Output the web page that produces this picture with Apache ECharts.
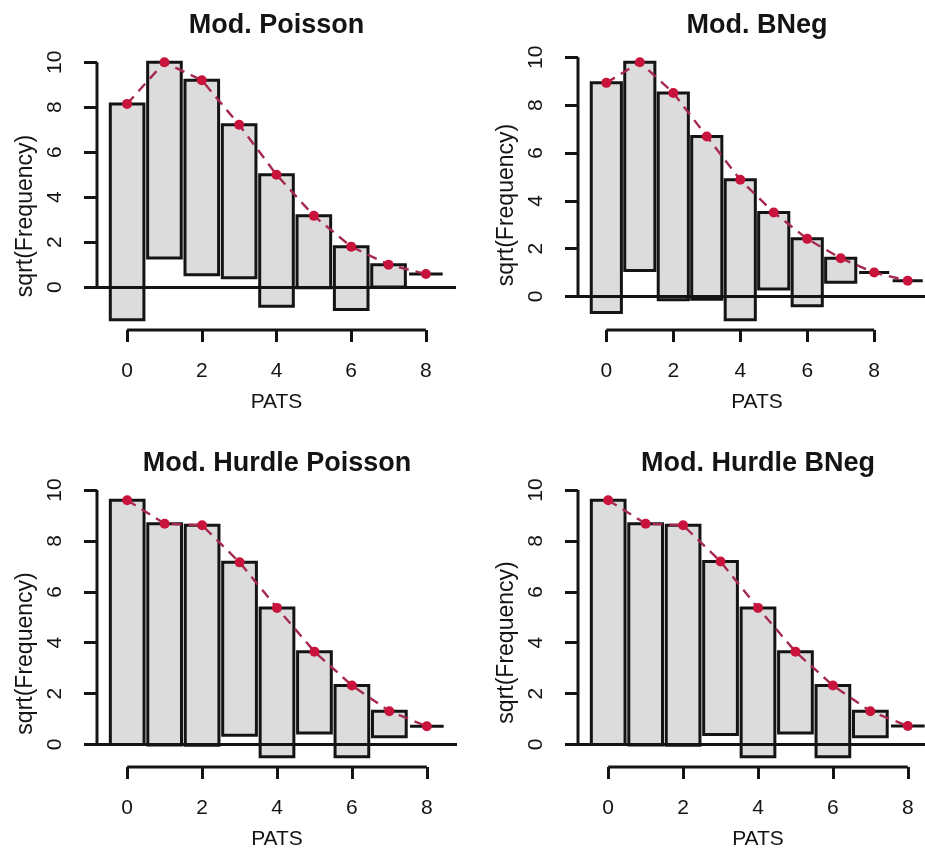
<!DOCTYPE html>
<html>
<head>
<meta charset="utf-8">
<script src="https://cdn.jsdelivr.net/npm/echarts@6/dist/echarts.min.js"></script>
<style>
  html, body { margin: 0; padding: 0; background: #fff; }
  #chart { width: 925px; height: 852px; }
</style>
</head>
<body>
<div id="chart"></div>
<script>
// --- data (square-root scale) ---
const panelTitles = ['Mod. Poisson', 'Mod. BNeg', 'Mod. Hurdle Poisson', 'Mod. Hurdle BNeg'];
const pats = [0, 1, 2, 3, 4, 5, 6, 7, 8, 9];
const observedSqrt = [9.6, 8.7, 8.65, 6.8, 5.85, 3.2, 2.8, 1.0, 0, 0];
const expPoisson = [8.15, 10.0, 9.2, 7.22, 5.0, 3.17, 1.8, 1.0, 0.58];
const expBNeg = [8.93, 9.79, 8.51, 6.69, 4.88, 3.51, 2.41, 1.6, 1.0, 0.66];
const expHurdlePoisson = [9.6, 8.68, 8.62, 7.16, 5.37, 3.65, 2.32, 1.31, 0.72];
const expHurdleBNeg = [9.6, 8.68, 8.62, 7.19, 5.37, 3.65, 2.32, 1.31, 0.73];
const xTicks = [0, 2, 4, 6, 8];
const yTicks = [0, 2, 4, 6, 8, 10];
const xLabel = 'PATS';
const yLabel = 'sqrt(Frequency)';

const expected = [expPoisson, expBNeg, expHurdlePoisson, expHurdleBNeg];

// --- layout (right column runs past the picture edge, like the cropped original) ---
const boxes = [
  { left: 97, top: 52, width: 359, height: 278, yShift: 50 },
  { left: 578, top: 52, width: 358, height: 278, yShift: 28 },
  { left: 97, top: 490, width: 360, height: 277, yShift: 50 },
  { left: 578, top: 490, width: 360, height: 277, yShift: 28 },
];
const FONT = '"Liberation Sans", Arial, sans-serif';
const INK = '#141414';
const LW = 3;
const HALF = 0.45;

const chart = echarts.init(document.getElementById('chart'), null, { renderer: 'canvas' });

const grid = [], xAxis = [], yAxis = [], series = [], graphic = [];

expected.forEach((exp, p) => {
  const b = boxes[p];
  const n = exp.length;
  const bars = exp.map((e, i) => [pats[i], e - observedSqrt[i], e]);

  // R-style 4% padding around the drawn range
  const xlo = pats[0] - HALF, xhi = pats[n - 1] + HALF;
  const xMin = xlo - 0.04 * (xhi - xlo), xMax = xhi + 0.04 * (xhi - xlo);
  const ys = bars.flatMap(d => [d[1], d[2]]);
  const ylo = Math.min(...ys), yhi = Math.max(...ys);
  const yMin = ylo - 0.04 * (yhi - ylo), yMax = yhi + 0.04 * (yhi - ylo);

  grid.push({
    left: b.left, top: b.top, width: b.width, height: b.height,
    containLabel: false, outerBoundsMode: 'none',
  });

  xAxis.push({
    type: 'value', gridIndex: p, min: xMin, max: xMax,
    name: xLabel, nameLocation: 'middle', nameGap: 62,
    nameTextStyle: { fontFamily: FONT, fontSize: 21, color: INK },
    axisLine: { show: false, onZero: false },
    axisTick: { show: true, customValues: xTicks, length: 12, lineStyle: { color: INK, width: LW } },
    axisLabel: { customValues: xTicks, margin: 31, fontFamily: FONT, fontSize: 21, color: INK },
    splitLine: { show: false },
  });

  yAxis.push({
    type: 'value', gridIndex: p, min: yMin, max: yMax,
    name: yLabel, nameLocation: 'middle', nameGap: 60,
    nameTextStyle: { fontFamily: FONT, fontSize: 23, color: INK, padding: [0, b.yShift, 0, 0] },
    axisLine: { show: false, onZero: false },
    axisTick: { show: true, customValues: yTicks, length: 13, lineStyle: { color: INK, width: LW } },
    axisLabel: { customValues: yTicks, rotate: 90, margin: 31, fontFamily: FONT, fontSize: 21, color: INK },
    splitLine: { show: false },
  });

  // hanging bars: from expected down by the observed sqrt frequency
  series.push({
    type: 'custom', xAxisIndex: p, yAxisIndex: p, silent: true, z: 2,
    data: bars,
    renderItem(params, api) {
      const x = api.value(0);
      const p0 = api.coord([x - HALF, api.value(2)]);
      const p1 = api.coord([x + HALF, api.value(1)]);
      return {
        type: 'rect',
        shape: { x: p0[0], y: p0[1], width: p1[0] - p0[0], height: p1[1] - p0[1] },
        style: { fill: '#dcdcdc', stroke: INK, lineWidth: LW },
      };
    },
  });

  // expected curve
  series.push({
    type: 'line', xAxisIndex: p, yAxisIndex: p, silent: true, z: 5,
    data: exp.map((e, i) => [pats[i], e]),
    symbol: 'circle', symbolSize: 10,
    itemStyle: { color: '#c8143c' },
    lineStyle: { color: '#a52a4e', width: 2.4, type: [10, 7] },
    markLine: {
      silent: true, symbol: 'none', label: { show: false },
      lineStyle: { color: INK, width: LW, type: 'solid' },
      data: [{ yAxis: 0 }],
      z: 4,
    },
  });

  // R-style axis lines spanning only the tick range
  series.push({
    type: 'line', xAxisIndex: p, yAxisIndex: p, silent: true, clip: false, z: 3,
    data: [[xMin, yTicks[0]], [xMin, yTicks[yTicks.length - 1]]],
    symbol: 'none', lineStyle: { color: INK, width: LW },
  });
  series.push({
    type: 'line', xAxisIndex: p, yAxisIndex: p, silent: true, clip: false, z: 3,
    data: [[xTicks[0], yMin], [xTicks[xTicks.length - 1], yMin]],
    symbol: 'none', lineStyle: { color: INK, width: LW },
  });

  graphic.push({
    type: 'text',
    x: b.left + b.width / 2,
    y: b.top - 26,
    style: {
      text: panelTitles[p], align: 'center', verticalAlign: 'middle',
      font: 'bold 27px ' + FONT, fill: INK,
    },
  });
});

chart.setOption({
  backgroundColor: '#fff',
  animation: false,
  grid, xAxis, yAxis, series, graphic,
});
</script>
</body>
</html>
